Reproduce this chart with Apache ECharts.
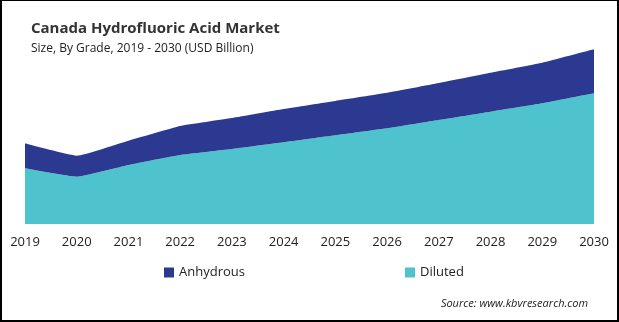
<!DOCTYPE html>
<html>
<head>
<meta charset="utf-8">
<script src="https://cdn.jsdelivr.net/npm/echarts@6/dist/echarts.min.js"></script>
<style>
html,body{margin:0;padding:0;background:#fff;}
#frame{position:absolute;left:0;top:0;width:619px;height:322px;box-sizing:border-box;border-style:solid;border-color:#000;border-width:1px 2px 2px 2px;}
#chart{position:absolute;left:0;top:0;width:619px;height:322px;}
</style>
</head>
<body>
<div id="chart"></div>
<div id="frame"></div>
<script>
var years = ['2019','2020','2021','2022','2023','2024','2025','2026','2027','2028','2029','2030'];
var diluted = [0.0557,0.0473,0.0590,0.0690,0.0750,0.0817,0.0887,0.0957,0.1040,0.1123,0.1207,0.1307];
var anhydrous = [0.0250,0.0210,0.0243,0.0290,0.0310,0.0333,0.0344,0.0355,0.0370,0.0390,0.0406,0.0440];
var seriesNames = ['Anhydrous','Diluted'];
var titleText = 'Canada Hydrofluoric Acid Market';
var subtitleText = 'Size, By Grade, 2019 - 2030 (USD Billion)';
var sourceText = 'Source: www.kbvresearch.com';

var navy = '#2B3990';
var teal = '#4EC3CE';
var font = '"Open Sans", "Noto Sans", sans-serif';

var chart = echarts.init(document.getElementById('chart'), null, {renderer:'canvas'});
chart.setOption({
  animation:false,
  backgroundColor:'#fff',
  title:[
    {text:titleText,left:26,top:16,textStyle:{fontFamily:font,fontSize:15,fontWeight:'bold',color:'#333'}},
    {text:subtitleText,left:26,top:38,textStyle:{fontFamily:font,fontSize:12,fontWeight:'normal',color:'#222'}},
    {text:sourceText,right:26,top:293,textStyle:{fontFamily:font,fontSize:11,fontStyle:'italic',fontWeight:'normal',color:'#222'}}
  ],
  legend:[
    {data:[seriesNames[0]],left:159,top:261,itemWidth:10,itemHeight:10,icon:'rect',itemGap:5,textStyle:{fontFamily:font,fontSize:13,color:'#222'}},
    {data:[seriesNames[1]],left:400,top:261,itemWidth:10,itemHeight:10,icon:'rect',itemGap:5,textStyle:{fontFamily:font,fontSize:13,color:'#222'}}
  ],
  grid:{left:25,right:25,top:44,bottom:98,containLabel:false},
  xAxis:{type:'category',data:years,boundaryGap:false,
    axisLine:{show:false},axisTick:{show:false},splitLine:{show:false},
    axisLabel:{margin:12,fontFamily:font,fontSize:13,color:'#222'}},
  yAxis:{type:'value',min:0,max:0.18,show:false,splitLine:{show:false}},
  series:[
    {name:seriesNames[1],type:'line',stack:'total',data:diluted,smooth:0.12,symbol:'none',
      lineStyle:{width:0},areaStyle:{color:teal,opacity:1},itemStyle:{color:teal}},
    {name:seriesNames[0],type:'line',stack:'total',data:anhydrous,smooth:0.12,symbol:'none',
      lineStyle:{width:0},areaStyle:{color:navy,opacity:1},itemStyle:{color:navy}}
  ]
});
</script>
</body>
</html>
